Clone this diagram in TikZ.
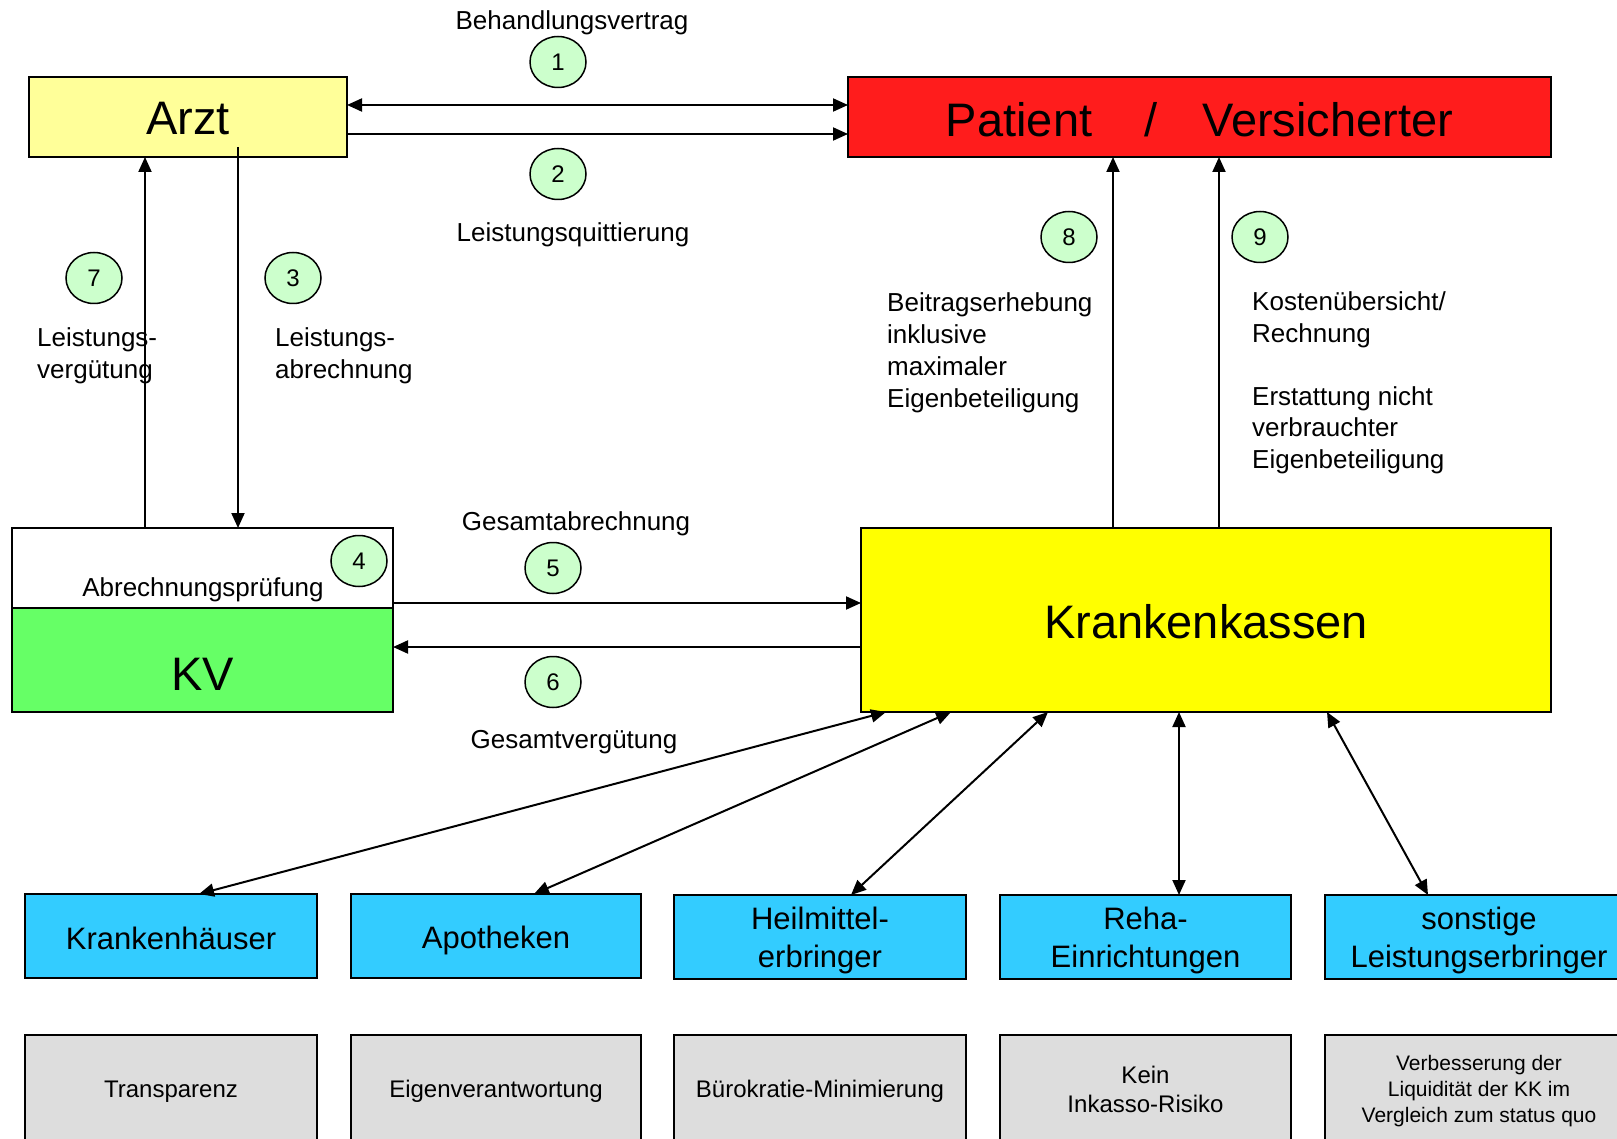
\documentclass[tikz,border=0pt]{standalone}
\usepackage{fontspec}
\setmainfont{Liberation Sans}
\usetikzlibrary{arrows.meta,shapes.geometric,calc}
\definecolor{arztY}{RGB}{255,255,153}
\definecolor{patR}{RGB}{255,28,28}
\definecolor{kkY}{RGB}{255,255,0}
\definecolor{kvG}{RGB}{102,255,102}
\definecolor{numG}{RGB}{204,255,204}
\definecolor{lbBlue}{RGB}{51,204,255}
\definecolor{grayBox}{RGB}{221,221,221}
\newcommand\fsz[2]{\fontsize{#1}{#2}\selectfont}
\begin{document}
\begin{tikzpicture}[x=1pt,y=-1pt,
  box/.style={draw=black, line width=2pt, inner sep=0pt, outer sep=0pt, align=center},
  bigbox/.style={box, font=\fsz{47}{54}},
  provbox/.style={box, fill=lbBlue, minimum height=84pt, font=\fsz{31}{38}},
  goalbox/.style={box, line width=1.5pt, fill=grayBox, minimum height=108pt, font=\fsz{24}{29}},
  num/.style={ellipse, draw=black, line width=1.5pt, fill=numG, minimum width=56pt, minimum height=51pt, inner sep=0pt, font=\fsz{24}{28}},
  lbl/.style={inner sep=0pt, align=left, font=\fsz{26}{32}},
  arr/.style={line width=2pt, -{Triangle[length=15pt,width=13pt]}},
  darr/.style={line width=2pt, {Triangle[length=15pt,width=13pt]}-{Triangle[length=15pt,width=13pt]}}
]
\useasboundingbox (0,0) rectangle (1617,1139);
\fill[white] (0,0) rectangle (1617,1139);

% main boxes
\node[bigbox, fill=arztY, minimum width=318pt, minimum height=80pt, text height=35pt, text depth=0pt] (arzt) at (188,117) {Arzt};
\node[bigbox, fill=patR, minimum width=703pt, minimum height=80pt, text height=40pt, text depth=0pt] (pat) at (1199.5,117) {Patient\hspace{52pt}/\hspace{45pt}Versicherter};
\node[box, fill=white, minimum width=381pt, minimum height=80pt] (kvtop) at (202.5,568) {};
\node[bigbox, fill=kvG, minimum width=381pt, minimum height=104pt, text height=60pt, text depth=0pt] (kv) at (202.5,660) {KV};
\node[inner sep=0pt, font=\fsz{26}{30}] (pruef) at (203,590) {Abrechnungsprüfung};
\node[bigbox, fill=kkY, minimum width=690pt, minimum height=184pt, text height=37pt, text depth=0pt] (kk) at (1206,620) {Krankenkassen};

% providers
\node[provbox, minimum width=292pt, text height=26pt, text depth=0pt] (kh) at (171,936) {Krankenhäuser};
\node[provbox, minimum width=290pt, text height=24pt, text depth=0pt] (apo) at (496,936) {Apotheken};
\node[provbox, minimum width=292pt, text depth=0pt] (heil) at (820,937) {Heilmittel-\\erbringer};
\node[provbox, minimum width=291pt, text depth=0pt] (reha) at (1145.5,937) {Reha-\\Einrichtungen};
\node[provbox, minimum width=308pt, text depth=0pt] (sonst) at (1479,937) {sonstige\\Leistungserbringer};

% goals
\node[goalbox, minimum width=292pt, text depth=0pt] (g1) at (171,1089) {Transparenz};
\node[goalbox, minimum width=290pt, text depth=0pt] (g2) at (496,1089) {Eigenverantwortung};
\node[goalbox, minimum width=292pt, text depth=0pt] (g3) at (820,1089) {Bürokratie-Minimierung};
\node[goalbox, minimum width=291pt] (g4) at (1145.5,1089) {Kein\\Inkasso-Risiko};
\node[goalbox, minimum width=308pt, font=\fsz{21}{25.8}, text depth=0pt] (g5) at (1479,1089) {Verbesserung der\\Liquidität der KK im\\Vergleich zum status quo};

% number circles
\node[num] (c1) at (558,62) {1};
\node[num] (c2) at (558,174) {2};
\node[num] (c3) at (293,278) {3};
\node[num] (c4) at (359,561) {4};
\node[num] (c5) at (553,568) {5};
\node[num] (c6) at (553,682) {6};
\node[num] (c7) at (94,278) {7};
\node[num] (c8) at (1069,237) {8};
\node[num] (c9) at (1260,237) {9};

% labels
\node[lbl] (tbv) at (572,23) {Behandlungsvertrag};
\node[lbl] (tlq) at (573,235) {Leistungsquittierung};
\node[lbl] (tga) at (576,524) {Gesamtabrechnung};
\node[lbl] (tgv) at (574,742) {Gesamtvergütung};
\node[lbl, anchor=west] (t7) at (37,356) {Leistungs-\\vergütung};
\node[lbl, anchor=west] (t3) at (275,356) {Leistungs-\\abrechnung};
\node[lbl, anchor=west] (t8) at (887,353) {Beitragserhebung\\inklusive\\maximaler\\Eigenbeteiligung};
\node[lbl, anchor=west, font=\fsz{26}{31.5}] (t9) at (1252,383) {Kostenübersicht/\\Rechnung\\[31.5pt]Erstattung nicht\\verbrauchter\\Eigenbeteiligung};

% helper coordinates
\coordinate (y1) at (0,105);
\coordinate (y2) at (0,134);
\coordinate (y5) at (0,603);
\coordinate (y6) at (0,647);
\coordinate (x7) at (145,0);
\coordinate (x3) at (238,0);
\coordinate (a3s) at (238,147);
\coordinate (x8) at (1113,0);
\coordinate (x9) at (1219,0);

% arrows
\draw[darr] (arzt.east |- y1) -- (pat.west |- y1);
\draw[arr] (arzt.east |- y2) -- (pat.west |- y2);
\draw[arr] (kvtop.north -| x7) -- (arzt.south -| x7);
\draw[arr] (a3s) -- (kvtop.north -| x3);
\draw[arr] (kvtop.east |- y5) -- (kk.west |- y5);
\draw[arr] (kk.west |- y6) -- (kv.east |- y6);
\draw[arr] (kk.north -| x8) -- (pat.south -| x8);
\draw[arr] (kk.north -| x9) -- (pat.south -| x9);

\coordinate (k1) at (886,712);
\coordinate (k2) at (951,712);
\coordinate (k3) at (1048,712);
\coordinate (k4) at (1179,712);
\coordinate (k5) at (1327,712);
\coordinate (p1) at (199,0);
\coordinate (p2) at (534,0);
\coordinate (p3) at (851,0);
\coordinate (p4) at (1179,0);
\coordinate (p5) at (1428,0);
\draw[darr] (k1) -- (kh.north -| p1);
\draw[darr] (k2) -- (apo.north -| p2);
\draw[darr] (k3) -- (heil.north -| p3);
\draw[darr] (k4) -- (reha.north -| p4);
\draw[darr] (k5) -- (sonst.north -| p5);
\end{tikzpicture}
\end{document}
